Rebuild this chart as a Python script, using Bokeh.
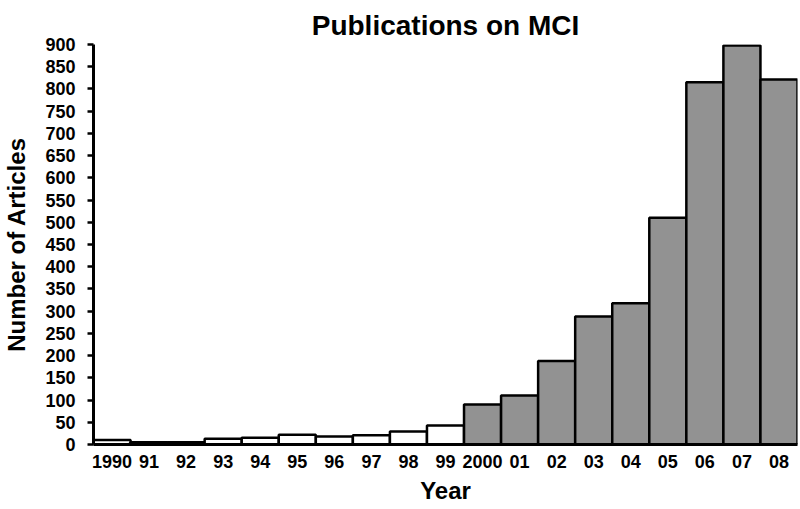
from bokeh.plotting import figure
from bokeh.models import Range1d, FixedTicker, ColumnDataSource
from bokeh.embed import file_html
from bokeh.resources import INLINE

years = list(range(1990, 2009))
year_labels = ["1990", "91", "92", "93", "94", "95", "96", "97", "98", "99",
               "2000", "01", "02", "03", "04", "05", "06", "07", "08"]
counts = [10, 5, 5, 13, 15, 22, 18, 21, 29, 43, 90, 110, 188, 288, 318, 510, 815, 898, 821]
y_ticks = list(range(0, 901, 50))

FONT = "Liberation Sans"
colors = ["white" if y < 2000 else "#929292" for y in years]
src = ColumnDataSource(dict(x=years, top=counts, color=colors))

p = figure(width=800, height=509, output_backend="svg", toolbar_location=None,
           x_range=Range1d(years[0] - 0.5, years[-1] + 0.5),
           y_range=Range1d(0, 900),
           title="Publications on MCI",
           min_border_left=90, min_border_right=3, min_border_top=44, min_border_bottom=65)

p.vbar(x="x", top="top", width=1.0, bottom=0, source=src, fill_color="color",
       line_color="black", line_width=2.5)

p.title.align = "center"
p.title.vertical_align = "top"
p.title.text_font = FONT
p.title.text_font_size = "28px"
p.title.text_font_style = "bold"
p.title.text_color = "black"
p.title.standoff = 4

p.xgrid.visible = False
p.ygrid.visible = False
p.outline_line_color = None

p.yaxis.ticker = FixedTicker(ticks=y_ticks)
p.yaxis.axis_label = "Number of Articles"
p.xaxis.ticker = FixedTicker(ticks=years)
p.xaxis.major_label_overrides = {y: l for y, l in zip(years, year_labels)}
p.xaxis.axis_label = "Year"

for ax in (p.xaxis[0], p.yaxis[0]):
    ax.axis_line_width = 3
    ax.axis_line_color = "black"
    ax.major_label_text_font = FONT
    ax.major_label_text_font_style = "bold"
    ax.major_label_text_font_size = "18px"
    ax.major_label_text_color = "black"
    ax.axis_label_text_font = FONT
    ax.axis_label_text_font_style = "bold"
    ax.axis_label_text_font_size = "24px"
    ax.axis_label_text_color = "black"
    ax.minor_tick_line_color = None

p.yaxis.major_tick_out = 6
p.yaxis.major_tick_in = 0
p.yaxis.major_tick_line_width = 2.5
p.yaxis.major_label_standoff = 12
p.yaxis.axis_label_standoff = 12

p.xaxis.major_tick_out = 0
p.xaxis.major_tick_in = 0
p.xaxis.major_tick_line_color = None
p.xaxis.major_label_standoff = 10
p.xaxis.axis_label_standoff = 6

open("out.html", "w").write(file_html(p, INLINE))
